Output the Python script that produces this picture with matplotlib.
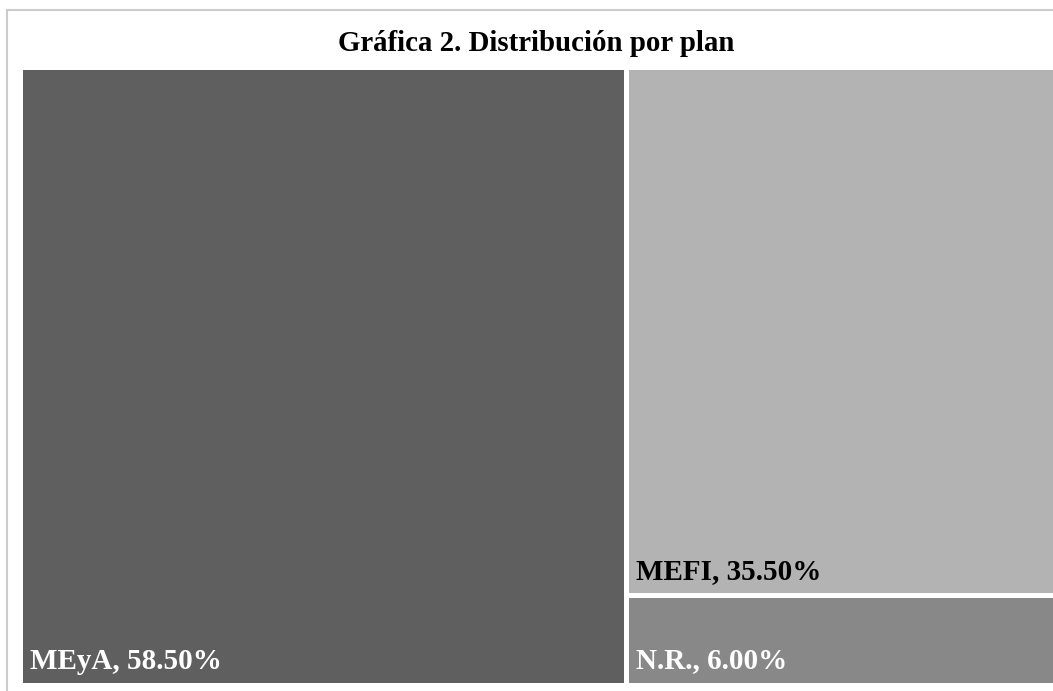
import matplotlib
matplotlib.use("Agg")
import matplotlib.pyplot as plt
from matplotlib.patches import Rectangle
from matplotlib.lines import Line2D

plt.rcParams['font.family'] = ['Liberation Serif', 'DejaVu Serif']

# data
categories = ["MEyA", "MEFI", "N.R."]
shares = [58.50, 35.50, 6.00]
colors = ["#5f5f5f", "#b3b3b3", "#888888"]
text_colors = ["white", "black", "white"]
title = "Gráfica 2. Distribución por plan"


def layout(values):
    # first block takes a full-height column, the rest stack in the other column
    total = float(sum(values))
    w0 = values[0] / total
    rects = [(0.0, 0.0, w0, 1.0)]
    rest = sum(values[1:])
    top = 1.0
    for v in values[1:]:
        h = v / rest
        rects.append((w0, top - h, 1.0 - w0, h))
        top -= h
    return rects


fig = plt.figure(figsize=(10.53, 6.91), dpi=100)
W, H = 1053.0, 691.0
ax = fig.add_axes([19.5 / W, (H - 684.5) / H, 1036 / W, 618 / H])
ax.set_xlim(0, 1)
ax.set_ylim(0, 1)
ax.axis('off')

for (x, y, w, h), name, val, c, tc in zip(layout(shares), categories, shares, colors, text_colors):
    ax.add_patch(Rectangle((x, y), w, h, facecolor=c, edgecolor='white', linewidth=3.6))
    ax.annotate(f"{name}, {val:.2f}%", (x, y), xytext=(7.5, 11.5), textcoords='offset points',
                color=tc, fontsize=21, fontweight='bold', va='baseline', ha='left')

fig.text(536 / W, 1 - 51 / H, title, ha='center', va='baseline', fontsize=20.8, fontweight='bold')

# outer frame of the original image
fig.add_artist(Line2D([7 / W, 1], [1 - 10 / H, 1 - 10 / H], color='#cccccc', linewidth=1.5))
fig.add_artist(Line2D([7 / W, 7 / W], [0, 1 - 10 / H], color='#cccccc', linewidth=1.5))

fig.savefig("out.png", dpi=100)
